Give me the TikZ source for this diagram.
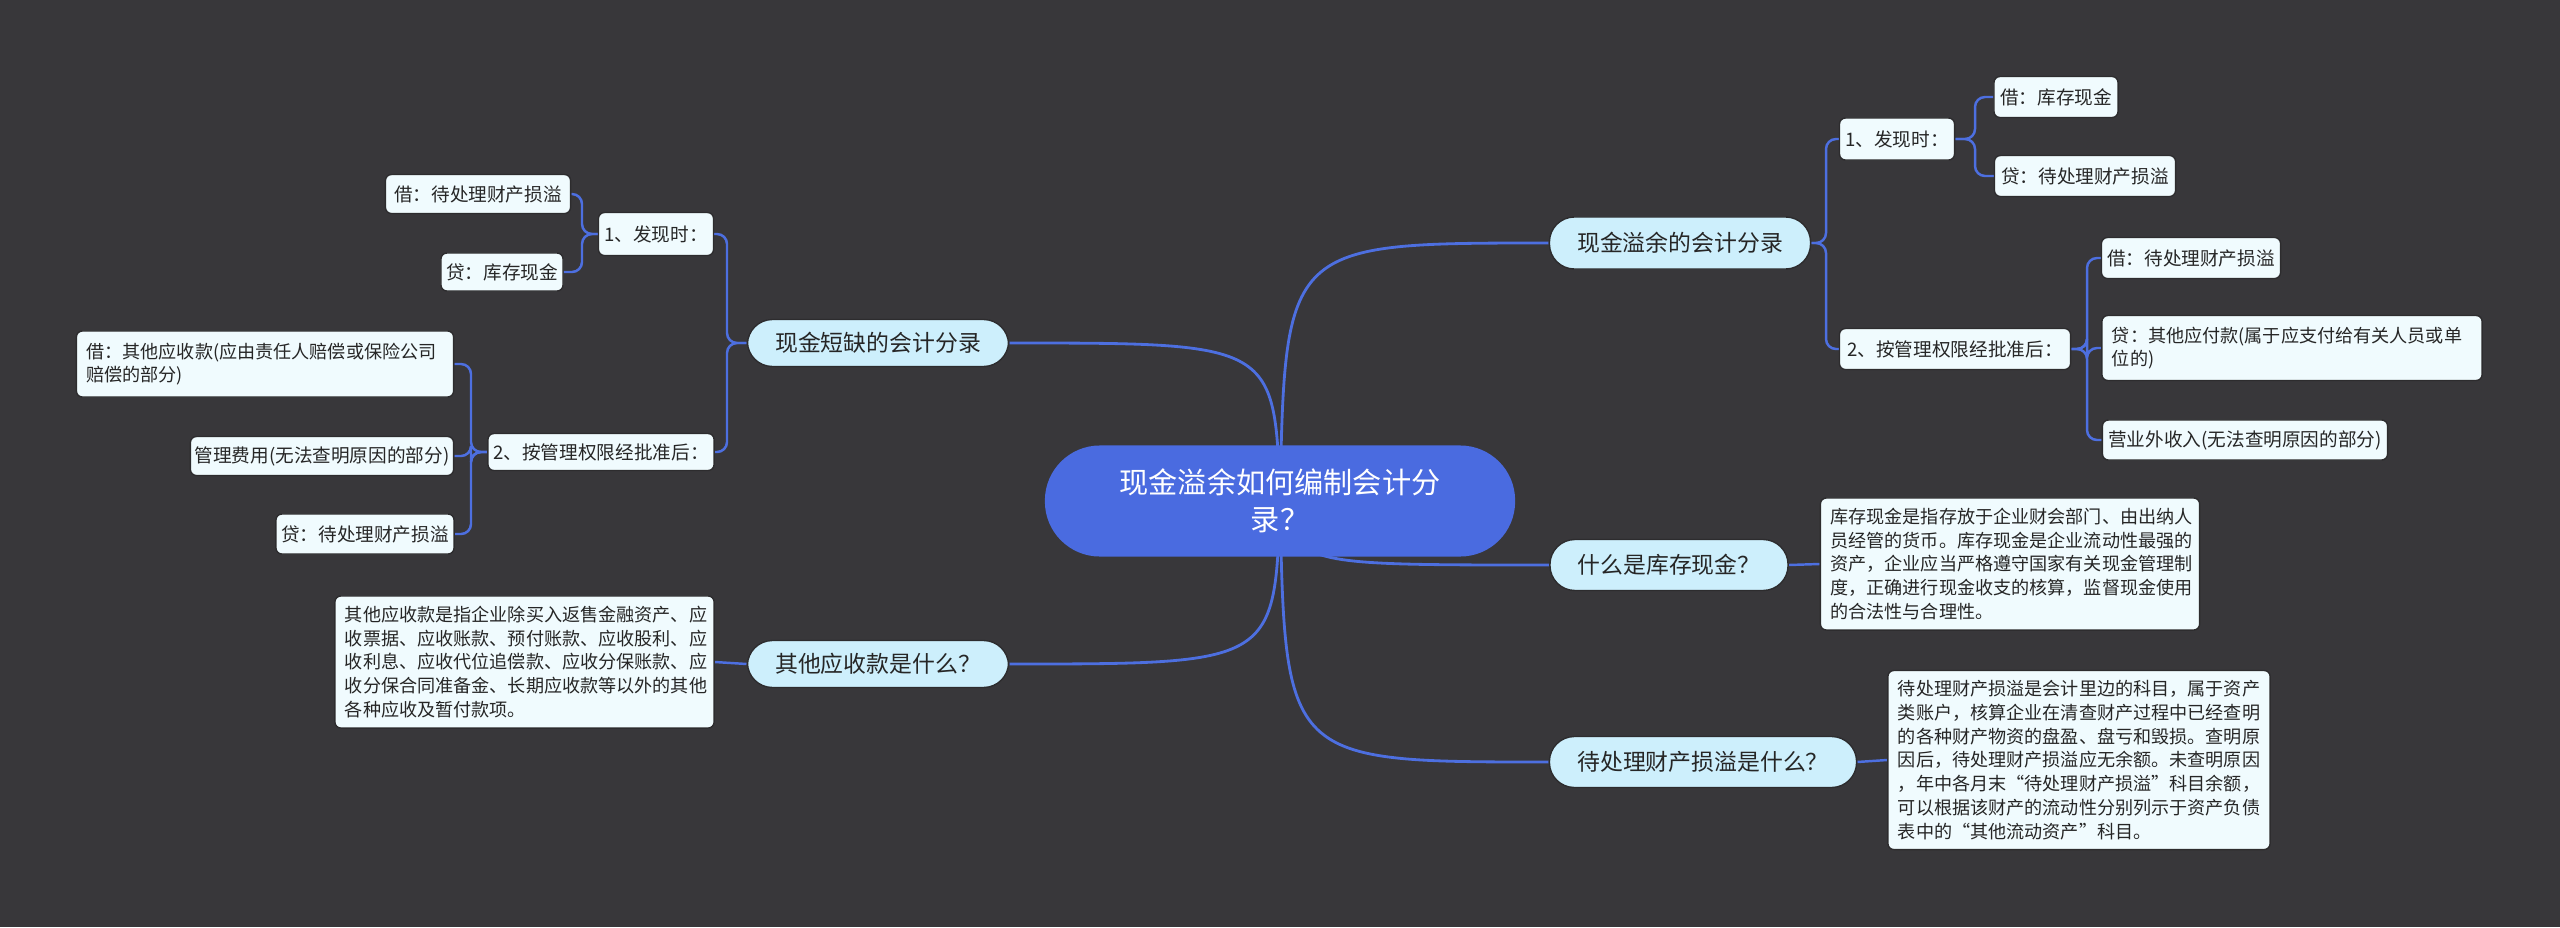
\documentclass[tikz,border=0pt]{standalone}
\usepackage{fontspec}
\setmainfont{Noto Sans CJK SC}
\usetikzlibrary{backgrounds}
\definecolor{bg}{HTML}{38373A}
\definecolor{edge}{HTML}{4D6FE0}
\definecolor{rootc}{HTML}{4A6BE0}
\definecolor{lone}{HTML}{CDEFFC}
\definecolor{ltwo}{HTML}{F0FBFE}
\tikzset{
 rootn/.style={fill=rootc,text=white,rounded corners=0.55cm,font=\fontsize{8.3}{10.5}\selectfont,align=center,inner sep=0pt},
 lonen/.style={fill=lone,draw=bg!80!black,text=black!85,rounded corners=0.25cm,font=\fontsize{6.5}{8}\selectfont,inner sep=0pt},
 ltwon/.style={fill=ltwo,draw=bg!80!black,text=black!85,rounded corners=0.06cm,font=\fontsize{5.3}{6.8}\selectfont,inner sep=0pt},
 descn/.style={ltwon,align=left,font=\fontsize{5.15}{6.75}\selectfont},
 mainedge/.style={draw=edge,line width=0.8pt},
 subedge/.style={draw=edge,line width=0.7pt,rounded corners=0.1cm},
}
\begin{document}
\begin{tikzpicture}[x=0.01cm,y=-0.01cm]
\useasboundingbox (0,0) rectangle (2560,927);
\node[rootn,minimum width=4.70cm,minimum height=1.11cm] (root) at (1280,501) {现金溢余如何编制会计分\\录？};
\node[lonen,minimum width=2.61cm,minimum height=0.47cm] (A) at (878,343) {现金短缺的会计分录};
\node[lonen,minimum width=2.61cm,minimum height=0.47cm] (B) at (878,664) {其他应收款是什么？};
\node[lonen,minimum width=2.61cm,minimum height=0.52cm] (C) at (1680,243) {现金溢余的会计分录};
\node[lonen,minimum width=2.38cm,minimum height=0.51cm] (D) at (1669,565) {什么是库存现金？};
\node[lonen,minimum width=3.07cm,minimum height=0.51cm] (E) at (1703,762) {待处理财产损溢是什么？};
% left
\node[ltwon,minimum width=1.15cm,minimum height=0.43cm] (A1) at (656,234) {1、发现时：};
\node[ltwon,minimum width=1.85cm,minimum height=0.39cm] (A11) at (478,194) {借：待处理财产损溢};
\node[ltwon,minimum width=1.22cm,minimum height=0.38cm] (A12) at (502,272) {贷：库存现金};
\node[ltwon,minimum width=2.26cm,minimum height=0.37cm] (A2) at (601,452) {2、按管理权限经批准后：};
\node[descn,text width=3.57cm,minimum height=0.66cm,inner xsep=0.1cm] (A21) at (265,364) {借：其他应收款(应由责任人赔偿或保险公司\\赔偿的部分)};
\node[ltwon,minimum width=2.63cm,minimum height=0.39cm] (A22) at (322,456) {管理费用(无法查明原因的部分)};
\node[ltwon,minimum width=1.78cm,minimum height=0.40cm] (A23) at (365,534) {贷：待处理财产损溢};
\node[descn,text width=3.59cm,minimum height=1.32cm,inner xsep=0.1cm] (B1) at (524.5,662) {其他应收款是指企业除买入返售金融资产、应\\收票据、应收账款、预付账款、应收股利、应\\收利息、应收代位追偿款、应收分保账款、应\\收分保合同准备金、长期应收款等以外的其他\\各种应收及暂付款项。};
% right
\node[ltwon,minimum width=1.15cm,minimum height=0.42cm] (C1) at (1897,139) {1、发现时：};
\node[ltwon,minimum width=1.24cm,minimum height=0.41cm] (C11) at (2056,97) {借：库存现金};
\node[ltwon,minimum width=1.81cm,minimum height=0.41cm] (C12) at (2085,176) {贷：待处理财产损溢};
\node[ltwon,minimum width=2.31cm,minimum height=0.41cm] (C2) at (1955,349) {2、按管理权限经批准后：};
\node[ltwon,minimum width=1.79cm,minimum height=0.41cm] (C21) at (2191,258) {借：待处理财产损溢};
\node[descn,text width=3.60cm,minimum height=0.65cm,inner xsep=0.1cm] (C22) at (2292,348) {贷：其他应付款(属于应支付给有关人员或单\\位的)};
\node[ltwon,minimum width=2.85cm,minimum height=0.40cm] (C23) at (2245,440) {营业外收入(无法查明原因的部分)};
\node[descn,text width=3.59cm,minimum height=1.32cm,inner xsep=0.1cm] (D1) at (2010,564) {库存现金是指存放于企业财会部门、由出纳人\\员经管的货币。库存现金是企业流动性最强的\\资产，企业应当严格遵守国家有关现金管理制\\度，正确进行现金收支的核算，监督现金使用\\的合法性与合理性。};
\node[descn,text width=3.62cm,minimum height=1.79cm,inner xsep=0.1cm] (E1) at (2079,760) {待处理财产损溢是会计里边的科目，属于资产\\类账户，核算企业在清查财产过程中已经查明\\的各种财产物资的盘盈、盘亏和毁损。查明原\\因后，待处理财产损溢应无余额。未查明原因\\，年中各月末“待处理财产损溢”科目余额，\\可以根据该财产的流动性分别列示于资产负债\\表中的“其他流动资产”科目。};
\begin{pgfonlayer}{background}
\fill[bg] (0,0) rectangle (2560,927);
\draw[mainedge] (root.center) .. controls (1275,343) .. (A.east);
\draw[mainedge] (root.center) .. controls (1275,664) .. (B.east);
\draw[mainedge] (root.center) .. controls (1285,243) .. (C.west);
\draw[mainedge] (root.center) .. controls (1300,565) .. (D.west);
\draw[mainedge] (root.center) .. controls (1285,762) .. (E.west);
\draw[subedge] (A.west) -- (727,343) -- (727,234) -- (A1.east);
\draw[subedge] (A.west) -- (727,343) -- (727,452) -- (A2.east);
\draw[subedge] (A1.west) -- (582,234) -- (582,194) -- (A11.east);
\draw[subedge] (A1.west) -- (582,234) -- (582,272) -- (A12.east);
\draw[subedge] (A2.west) -- (471,452) -- (471,364) -- (A21.east);
\draw[subedge] (A2.west) -- (471,452) -- (471,456) -- (A22.east);
\draw[subedge] (A2.west) -- (471,452) -- (471,534) -- (A23.east);
\draw[subedge] (B.west) -- (B1.east);
\draw[subedge] (C.east) -- (1826,243) -- (1826,139) -- (C1.west);
\draw[subedge] (C.east) -- (1826,243) -- (1826,349) -- (C2.west);
\draw[subedge] (C1.east) -- (1975,139) -- (1975,97) -- (C11.west);
\draw[subedge] (C1.east) -- (1975,139) -- (1975,176) -- (C12.west);
\draw[subedge] (C2.east) -- (2087,349) -- (2087,258) -- (C21.west);
\draw[subedge] (C2.east) -- (2087,349) -- (2087,348) -- (C22.west);
\draw[subedge] (C2.east) -- (2087,349) -- (2087,440) -- (C23.west);
\draw[subedge] (D.east) -- (D1.west);
\draw[subedge] (E.east) -- (E1.west);
\end{pgfonlayer}
\end{tikzpicture}
\end{document}
